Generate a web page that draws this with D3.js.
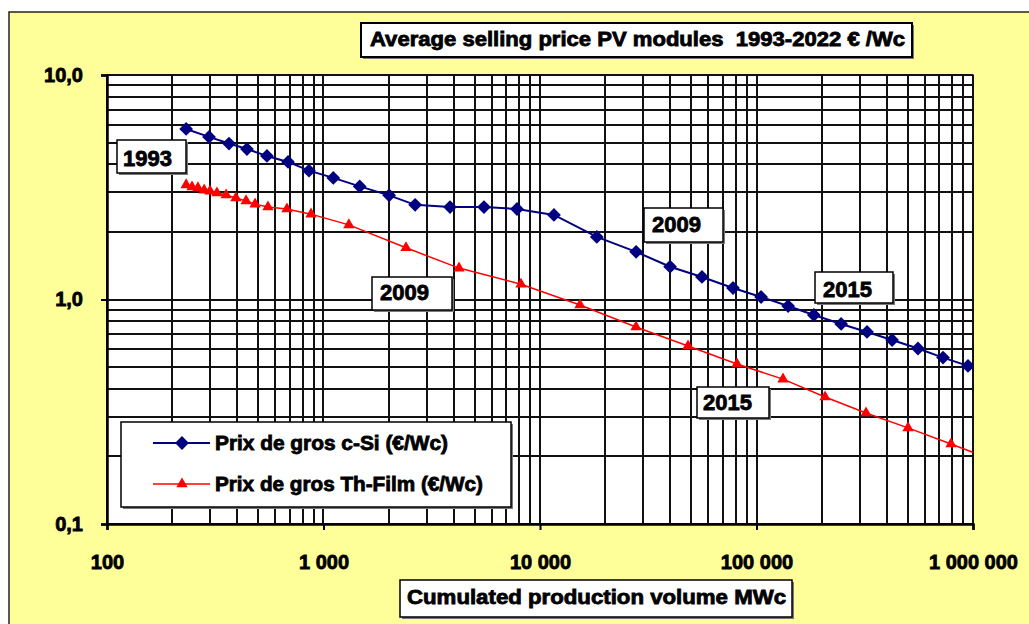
<!DOCTYPE html>
<html>
<head>
<meta charset="utf-8">
<script src="https://cdn.jsdelivr.net/npm/d3@7"></script>
<style>
    body { margin: 0; background: #fff; }
    text { font-family: 'Liberation Sans', Arial, sans-serif; font-weight: bold; fill: #000; }
</style>
</head>
<body>
<div id="chart"></div>
<script>
'use strict';

// Data
const cSiVolume = [232, 296, 366, 443, 548, 686, 857, 1110, 1470, 2010, 2650, 3840, 5510, 7830, 11600,
    18300, 27800, 39900, 56000, 77900, 105000, 140000, 184000, 246000, 324000, 423000, 557000, 727000, 948000];
const cSiPrice = [5.75, 5.30, 4.95, 4.68, 4.36, 4.10, 3.75, 3.48, 3.19, 2.91, 2.64, 2.58, 2.58, 2.53, 2.38,
    1.90, 1.63, 1.40, 1.26, 1.125, 1.026, 0.935, 0.853, 0.778, 0.717, 0.660, 0.605, 0.551, 0.506];
const thinVolume = [232, 247, 263, 281, 299, 322, 355, 394, 439, 483, 554, 678, 876, 1310, 2405,
    4225, 8170, 15300, 27760, 48270, 81260, 132600, 207300, 320500, 501000, 791300, 1237000];
const thinPrice = [3.24, 3.17, 3.14, 3.07, 3.04, 2.98, 2.92, 2.83, 2.75, 2.66, 2.58, 2.53, 2.40, 2.15, 1.70,
    1.38, 1.17, 0.945, 0.754, 0.621, 0.516, 0.442, 0.368, 0.312, 0.268, 0.227, 0.193];
const seriesNames = ['Prix de gros c-Si (€/Wc)', 'Prix de gros Th-Film (€/Wc)'];
const xTickValues = [100, 1000, 10000, 100000, 1000000];
const yTickValues = [0.1, 1, 10];
const yearLabels = ['1993', '2009', '2009', '2015', '2015'];
const titleText = 'Average selling price PV modules  1993-2022 € /Wc';
const xTitleText = 'Cumulated production volume MWc';

/*
Chart
 */
class PriceChart {

    // Configs
    svgW = 1029;
    svgH = 624;
    plot = {left: 107, top: 75, right: 973, bottom: 524};
    blue = '#000080';
    red = '#ff0000';
    yellow = '#ffff99';
    textStroke = 0.8;
    // label boxes [x, y, w, h, textX, baseline]
    yearBoxes = [
        [117, 140, 69, 33, 123, 166],
        [644, 208, 79, 34, 652, 232],
        [372, 277, 80, 33, 380, 300],
        [815, 272, 78, 31, 823, 297],
        [697, 387, 72, 31, 703, 410]
    ];

    // Tools
    xScale = d3.scaleLog().domain([100, 1000000]).range([this.plot.left, this.plot.right]);
    yScale = d3.scaleLog().domain([0.1, 10]).range([this.plot.bottom, this.plot.top]);
    locale = d3.formatLocale({decimal: ',', thousands: '\u00a0', grouping: [3], currency: ['', '']});

    constructor(_target) {
        this.target = _target;
        this.init();
    }

    init() {
        const vis = this;

        vis.svg = d3.select(`#${vis.target}`)
            .append('svg')
            .attr('width', vis.svgW)
            .attr('height', vis.svgH);

        // Build background
        vis.svg.append('rect')
            .attr('x', 9).attr('y', 12)
            .attr('width', vis.svgW).attr('height', vis.svgH)
            .attr('fill', vis.yellow)
            .attr('stroke', '#222')
            .attr('stroke-width', 1.5);
        vis.svg.append('rect')
            .attr('x', vis.plot.left).attr('y', vis.plot.top)
            .attr('width', vis.plot.right - vis.plot.left)
            .attr('height', vis.plot.bottom - vis.plot.top)
            .attr('fill', '#fff')
            .attr('stroke', '#808080')
            .attr('stroke-width', 2);

        vis.svg.append('clipPath').attr('id', 'plotClip')
            .append('rect')
            .attr('x', vis.plot.left).attr('y', vis.plot.top)
            .attr('width', vis.plot.right - vis.plot.left)
            .attr('height', vis.plot.bottom - vis.plot.top);

        vis.gridG = vis.svg.append('g').attr('class', 'gridG');
        vis.xAxisG = vis.svg.append('g')
            .attr('transform', `translate(0,${vis.plot.bottom})`);
        vis.yAxisG = vis.svg.append('g')
            .attr('transform', `translate(${vis.plot.left},0)`);
        vis.marksG = vis.svg.append('g').attr('clip-path', 'url(#plotClip)');
        vis.labelG = vis.svg.append('g');

        vis.render();
    }

    box(g, x, y, w, h, sw) {
        g.append('rect')
            .attr('x', x + 2).attr('y', y + 2).attr('width', w).attr('height', h)
            .attr('fill', '#7a7a7a');
        g.append('rect')
            .attr('x', x).attr('y', y).attr('width', w).attr('height', h)
            .attr('fill', '#fff').attr('stroke', '#000').attr('stroke-width', sw || 1.5);
    }

    render() {
        const vis = this;
        const x = vis.xScale;
        const y = vis.yScale;

        // Build grid
        vis.gridG.selectAll('.vGrid')
            .data(x.ticks())
            .join('line')
            .attr('class', 'vGrid')
            .attr('x1', d => Math.round(x(d))).attr('x2', d => Math.round(x(d)))
            .attr('y1', vis.plot.top).attr('y2', vis.plot.bottom)
            .attr('stroke', '#111')
            .attr('stroke-width', 2);
        vis.gridG.selectAll('.hGrid')
            .data(y.ticks())
            .join('line')
            .attr('class', 'hGrid')
            .attr('y1', d => Math.round(y(d))).attr('y2', d => Math.round(y(d)))
            .attr('x1', vis.plot.left).attr('x2', vis.plot.right)
            .attr('stroke', '#111')
            .attr('stroke-width', 2);

        // Build axes
        const xAxis = d3.axisBottom(x)
            .tickValues(xTickValues)
            .tickSize(6)
            .tickPadding(25)
            .tickFormat(vis.locale.format(',d'));
        const yAxis = d3.axisLeft(y)
            .tickValues(yTickValues)
            .tickSize(6)
            .tickPadding(18)
            .tickFormat(vis.locale.format('.1f'));
        vis.xAxisG.call(xAxis);
        vis.yAxisG.call(yAxis);
        [vis.xAxisG, vis.yAxisG].forEach(g => {
            g.select('.domain').attr('stroke', '#000').attr('stroke-width', 2.5);
            g.selectAll('.tick line').attr('stroke', '#000').attr('stroke-width', 2);
            g.selectAll('.tick text')
                .style('font-size', '20px')
                .style('font-weight', 'bold')
                .style('font-family', "'Liberation Sans', Arial, sans-serif")
                .attr('stroke', '#000').attr('stroke-width', vis.textStroke)
                .attr('fill', '#000');
        });

        // Build series
        const series = [
            {name: seriesNames[0], color: vis.blue, width: 2,
                pts: cSiVolume.map((v, i) => [v, cSiPrice[i]]), sym: d3.symbolSquare, size: 95, rot: 45},
            {name: seriesNames[1], color: vis.red, width: 1.5,
                pts: thinVolume.map((v, i) => [v, thinPrice[i]]), sym: d3.symbolTriangle, size: 56, rot: 0}
        ];
        const line = d3.line().x(d => x(d[0])).y(d => y(d[1]));
        series.forEach(s => {
            vis.marksG.append('path')
                .attr('d', line(s.pts))
                .attr('fill', 'none')
                .attr('stroke', s.color)
                .attr('stroke-width', s.width);
            vis.marksG.selectAll(null)
                .data(s.pts)
                .join('path')
                .attr('d', d3.symbol(s.sym, s.size))
                .attr('transform', d => `translate(${x(d[0])},${y(d[1])}) rotate(${s.rot})`)
                .attr('fill', s.color);
        });

        // Build title
        vis.box(vis.labelG, 361, 23, 551, 34, 2);
        vis.labelG.append('text')
            .attr('x', 370).attr('y', 46)
            .style('font-size', '20px')
            .style('white-space', 'pre')
            .attr('textLength', 535)
            .attr('lengthAdjust', 'spacingAndGlyphs')
            .attr('stroke', '#000').attr('stroke-width', vis.textStroke)
            .text(titleText);

        // Build x title
        vis.box(vis.labelG, 400, 580, 392, 37, 1.5);
        vis.labelG.append('text')
            .attr('x', 407).attr('y', 604)
            .style('font-size', '20px')
            .attr('textLength', 379)
            .attr('lengthAdjust', 'spacingAndGlyphs')
            .attr('stroke', '#000').attr('stroke-width', vis.textStroke)
            .text(xTitleText);

        // Build legend
        vis.box(vis.labelG, 121, 422, 390, 85, 1.5);
        const legendW = [233, 268];
        series.forEach((s, i) => {
            const ly = 443 + i * 41;
            vis.labelG.append('line')
                .attr('x1', 153).attr('x2', 210).attr('y1', ly).attr('y2', ly)
                .attr('stroke', s.color).attr('stroke-width', s.width);
            vis.labelG.append('path')
                .attr('d', d3.symbol(s.sym, s.size))
                .attr('transform', `translate(182,${ly}) rotate(${s.rot})`)
                .attr('fill', s.color);
            vis.labelG.append('text')
                .attr('x', 215).attr('y', ly + 7)
                .style('font-size', '20px')
                .attr('textLength', legendW[i])
                .attr('lengthAdjust', 'spacingAndGlyphs')
                .attr('stroke', '#000').attr('stroke-width', vis.textStroke)
                .text(s.name);
        });

        // Build year labels
        yearLabels.forEach((t, i) => {
            const b = vis.yearBoxes[i];
            vis.box(vis.labelG, b[0], b[1], b[2], b[3], 1.5);
            vis.labelG.append('text')
                .attr('x', b[4]).attr('y', b[5])
                .style('font-size', '22px')
                .attr('stroke', '#000').attr('stroke-width', vis.textStroke)
                .text(t);
        });
    }
}

new PriceChart('chart');
</script>
</body>
</html>
